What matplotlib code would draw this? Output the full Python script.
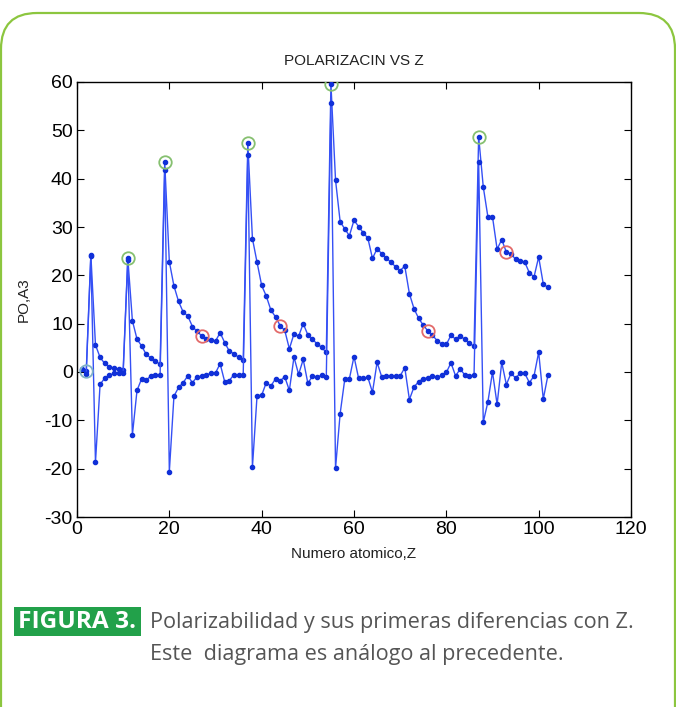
import matplotlib
matplotlib.use("Agg")
import matplotlib.pyplot as plt
from matplotlib.patches import FancyBboxPatch, Rectangle
from matplotlib.transforms import IdentityTransform

# ---------------- data ----------------
Z = list(range(1, 103))
polarizability = [
    0.667, 0.205, 24.3, 5.60, 3.03, 1.76, 1.10, 0.802, 0.557, 0.396,
    23.6, 10.6, 6.8, 5.38, 3.63, 2.90, 2.18, 1.64, 43.4, 22.8,
    17.8, 14.6, 12.4, 11.6, 9.4, 8.4, 7.5, 6.8, 6.6, 6.4,
    8.12, 6.07, 4.31, 3.77, 3.05, 2.48, 47.3, 27.6, 22.7, 17.9,
    15.7, 12.8, 11.4, 9.6, 8.6, 4.8, 7.9, 7.4, 10.0, 7.7,
    6.8, 5.8, 5.1, 4.04, 59.6, 39.7, 31.1, 29.6, 28.2, 31.4,
    30.1, 28.8, 27.7, 23.5, 25.5, 24.5, 23.6, 22.7, 21.8, 21.0,
    21.9, 16.2, 13.1, 11.1, 9.7, 8.5, 7.6, 6.5, 5.8, 5.7,
    7.6, 6.8, 7.4, 6.8, 6.0, 5.3, 48.7, 38.3, 32.1, 32.1,
    25.4, 27.4, 24.8, 24.5, 23.3, 23.0, 22.7, 20.5, 19.7, 23.8,
    18.2, 17.5,
]
Z_diff = list(range(2, 103))
first_diff = [
    -0.46, 24.10, -18.70, -2.57, -1.27, -0.66, -0.30, -0.25, -0.16,
    23.20, -13.00, -3.80, -1.42, -1.75, -0.73, -0.72, -0.54, 41.76, -20.60,
    -5.00, -3.20, -2.20, -0.80, -2.20, -1.00, -0.90, -0.70, -0.20, -0.20,
    1.72, -2.05, -1.76, -0.54, -0.72, -0.57, 44.82, -19.70, -4.90, -4.80,
    -2.20, -2.90, -1.40, -1.80, -1.00, -3.80, 3.10, -0.50, 2.60, -2.30,
    -0.90, -1.00, -0.70, -1.06, 55.56, -19.90, -8.60, -1.50, -1.40, 3.20,
    -1.30, -1.30, -1.10, -4.20, 2.00, -1.00, -0.90, -0.90, -0.90, -0.80,
    0.90, -5.70, -3.10, -2.00, -1.40, -1.20, -0.90, -1.10, -0.70, -0.10,
    1.90, -0.80, 0.60, -0.60, -0.80, -0.70, 43.40, -10.40, -6.20, 0.00,
    -6.70, 2.00, -2.60, -0.30, -1.20, -0.30, -0.30, -2.20, -0.80, 4.10,
    -5.60, -0.70,
]
max_Z = [11, 19, 37, 55, 87]
max_P = [23.6, 43.4, 47.3, 59.6, 48.7]
start_Z = [2]
start_P = [0.205]
red_Z = [27, 44, 76, 93]
red_P = [7.5, 9.6, 8.5, 24.8]

title = "POLARIZACIN VS Z"
xlabel = "Numero atomico,Z"
ylabel = "PO,A3"
xticks = [0, 20, 40, 60, 80, 100, 120]
yticks = [-30, -20, -10, 0, 10, 20, 30, 40, 50, 60]
caption_tag = "FIGURA 3."
caption_lines = ["Polarizabilidad y sus primeras diferencias con Z.",
                 "Este  diagrama es análogo al precedente."]

# ---------------- figure ----------------
W, H = 676, 707
fig = plt.figure(figsize=(W / 100, H / 100), dpi=100)
fig.patch.set_facecolor("white")

ax = fig.add_axes([77 / W, 1 - 517 / H, (631 - 77) / W, (517 - 82) / H])
line_c = "#3550f5"
mark_c = "#1030d8"
ax.plot(Z, polarizability, "-", color=line_c, lw=1.0, marker="o",
        ms=3.0, mfc=mark_c, mec=mark_c, zorder=3)
ax.plot(Z_diff, first_diff, "-", color=line_c, lw=1.0, marker="o",
        ms=3.0, mfc=mark_c, mec=mark_c, zorder=3)
ax.plot(max_Z, max_P, "o", ms=9, mfc="none", mec="#86c070", mew=1.3, zorder=4)
ax.plot(start_Z, start_P, "o", ms=9, mfc="none", mec="#7fb2c8", mew=1.3, zorder=4)
ax.plot(red_Z, red_P, "o", ms=9, mfc="none", mec="#e36a6a", mew=1.3, zorder=4)

ax.set_xlim(0, 120)
ax.set_ylim(-30, 60)
ax.set_xticks(xticks)
ax.set_yticks(yticks)
fam = ["Liberation Sans", "DejaVu Sans"]
ax.set_xticklabels([str(t) for t in xticks], family=fam, fontsize=14)
ax.set_yticklabels([str(t) for t in yticks], family=fam, fontsize=14)
ax.tick_params(direction="in", length=5, width=0.8, top=True, right=True,
               colors="black", pad=3)
for s in ax.spines.values():
    s.set_linewidth(1.0)
    s.set_color("black")
ax.set_title(title, family=fam, fontsize=11, color="#222222", pad=12)
ax.set_xlabel(xlabel, family=fam, fontsize=11, color="#222222", labelpad=6)
ax.set_ylabel(ylabel, family=fam, fontsize=11, color="#222222", labelpad=10)

# ---------------- frame & caption ----------------
tr = IdentityTransform()
frame = FancyBboxPatch((1, -40), 674, 694 + 40, boxstyle="round,pad=0,rounding_size=36",
                       transform=tr, fill=False, ec="#8cc63f", lw=1.6, zorder=0)
fig.patches.append(frame)

tag_box = Rectangle((14, 71), 127, 29, transform=tr, fc="#22a14a", ec="none")
fig.patches.append(tag_box)

cap_fam = ["Open Sans", "DejaVu Sans"]
t_tag = fig.text(77.5 / W, 85.5 / H, caption_tag, color="white", fontsize=15,
                 fontweight="bold", family=cap_fam, ha="center", va="center")
t1 = fig.text(150 / W, 79 / H, caption_lines[0], color="#555555", fontsize=14,
              family=cap_fam, ha="left", va="baseline")
t2 = fig.text(150 / W, 47 / H, caption_lines[1], color="#555555", fontsize=14,
              family=cap_fam, ha="left", va="baseline")

# fit caption widths to the reference layout
renderer = fig.canvas.get_renderer()
def fit(t, target):
    w = t.get_window_extent(renderer).width
    t.set_fontsize(t.get_fontsize() * target / w)
fit(t1, 486)
t2.set_fontsize(t1.get_fontsize())
fit(t_tag, 118)

fig.savefig("out.png", dpi=100)
